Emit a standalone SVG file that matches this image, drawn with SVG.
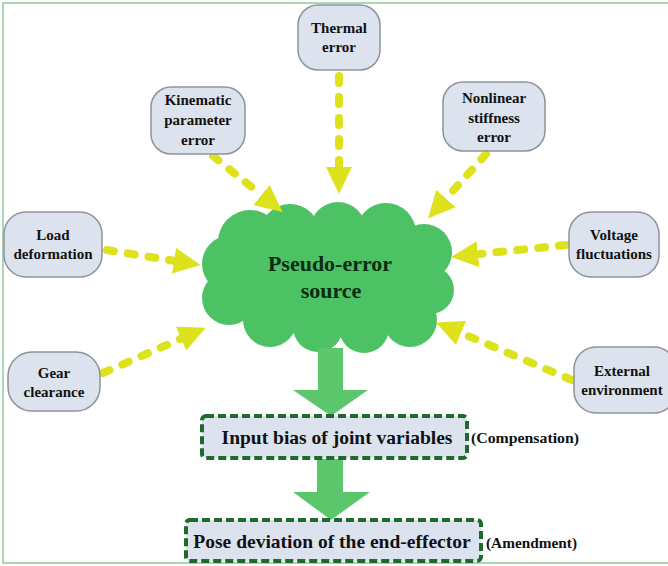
<svg xmlns="http://www.w3.org/2000/svg" width="668" height="566" viewBox="0 0 668 566">
<style>
.node rect{fill:#dce3ee;stroke:#8d929c;stroke-width:1.5}
.t{font-family:"Liberation Serif",serif;font-weight:bold;font-size:15px;fill:#111;text-anchor:middle}
.big{font-family:"Liberation Serif",serif;font-weight:bold;font-size:19.5px;fill:#111;text-anchor:middle}
.cl{font-family:"Liberation Serif",serif;font-weight:bold;font-size:22px;fill:#0b2b12;text-anchor:middle}
.side{font-family:"Liberation Serif",serif;font-weight:bold;font-size:14px;fill:#111}
.dash{stroke:#dde21c;stroke-width:8;stroke-dasharray:7 14;stroke-linecap:round;fill:none}
.box{fill:#dde3ee;stroke:#1d6a2c;stroke-width:4;stroke-dasharray:8 4}
.big-arrow{fill:#5cc66c}
</style>
<defs>
<marker id="ah" markerUnits="userSpaceOnUse" markerWidth="27" markerHeight="26" refX="0" refY="13" orient="auto" viewBox="0 0 27 26">
<path d="M0,0 L27,13 L0,26 Z" fill="#dde21c"/>
</marker>
</defs>
<rect x="3" y="3" width="680" height="560" fill="#fff" stroke="#a9d9b2" stroke-width="2"/>

<g id="cloud" fill="#4cc264">
<ellipse cx="328" cy="280" rx="108" ry="56"/>
<circle cx="250" cy="242" r="32"/>
<circle cx="290" cy="234" r="30"/>
<circle cx="338" cy="230" r="28"/>
<circle cx="386" cy="233" r="30"/>
<circle cx="424" cy="252" r="28"/>
<circle cx="430" cy="290" r="24"/>
<circle cx="410" cy="320" r="27"/>
<circle cx="364" cy="328" r="25"/>
<circle cx="318" cy="327" r="25"/>
<circle cx="270" cy="320" r="27"/>
<circle cx="229" cy="298" r="27"/>
<circle cx="231" cy="264" r="29"/>
<text class="cl" x="330" y="271">Pseudo-error</text>
<text class="cl" x="331" y="298">source</text>
</g>

<g id="connectors">
<path class="dash" d="M339,76 L339,167" marker-end="url(#ah)"/>
<path class="dash" d="M213,156 L261.5,195" marker-end="url(#ah)"/>
<path class="dash" d="M486,154 L446,198.5" marker-end="url(#ah)"/>
<path class="dash" d="M107,250 L174,260.8" marker-end="url(#ah)"/>
<path class="dash" d="M566,245 L478,254.2" marker-end="url(#ah)"/>
<path class="dash" d="M103,373 L181,338.7" marker-end="url(#ah)"/>
<path class="dash" d="M572,380 L461,333" marker-end="url(#ah)"/>
<path class="big-arrow" d="M318,348 L343,348 L343,390 L368,390 L331,416 L293,390 L318,390 Z"/>
<path class="big-arrow" d="M317,459 L343,459 L343,492 L370,492 L331,520 L293,492 L317,492 Z"/>
</g>

<g id="thermal" class="node"><rect x="298" y="5" width="82" height="65" rx="20"/>
<text class="t" x="339" y="33">Thermal</text><text class="t" x="339" y="52">error</text></g>

<g id="kinematic" class="node"><rect x="151" y="87" width="94" height="67" rx="20"/>
<text class="t" x="198" y="105">Kinematic</text><text class="t" x="198" y="125">parameter</text><text class="t" x="198" y="145">error</text></g>

<g id="nonlinear" class="node"><rect x="443" y="82" width="102" height="69" rx="20"/>
<text class="t" x="494" y="103">Nonlinear</text><text class="t" x="494" y="123">stiffness</text><text class="t" x="494" y="142">error</text></g>

<g id="load" class="node"><rect x="4" y="212" width="98" height="65" rx="22"/>
<text class="t" x="53" y="240">Load</text><text class="t" x="53" y="259">deformation</text></g>

<g id="voltage" class="node"><rect x="569" y="212" width="90" height="65" rx="22"/>
<text class="t" x="614" y="240">Voltage</text><text class="t" x="614" y="259">fluctuations</text></g>

<g id="gear" class="node"><rect x="8" y="352" width="92" height="59" rx="24"/>
<text class="t" x="54" y="378">Gear</text><text class="t" x="54" y="397">clearance</text></g>

<g id="external" class="node"><rect x="574" y="347" width="102" height="66" rx="22"/>
<text class="t" x="622" y="376">External</text><text class="t" x="622" y="395">environment</text></g>

<g id="input">
<rect class="box" x="202" y="416" width="265" height="42" rx="4"/>
<text class="big" x="337" y="444">Input bias of joint variables</text>
<text class="side" x="471" y="443" textLength="108" lengthAdjust="spacingAndGlyphs">(Compensation)</text>
</g>

<g id="pose">
<rect class="box" x="186" y="520" width="295" height="41" rx="4"/>
<text class="big" x="332" y="548">Pose deviation of the end-effector</text>
<text class="side" x="486" y="548" textLength="91" lengthAdjust="spacingAndGlyphs">(Amendment)</text>
</g>
</svg>
